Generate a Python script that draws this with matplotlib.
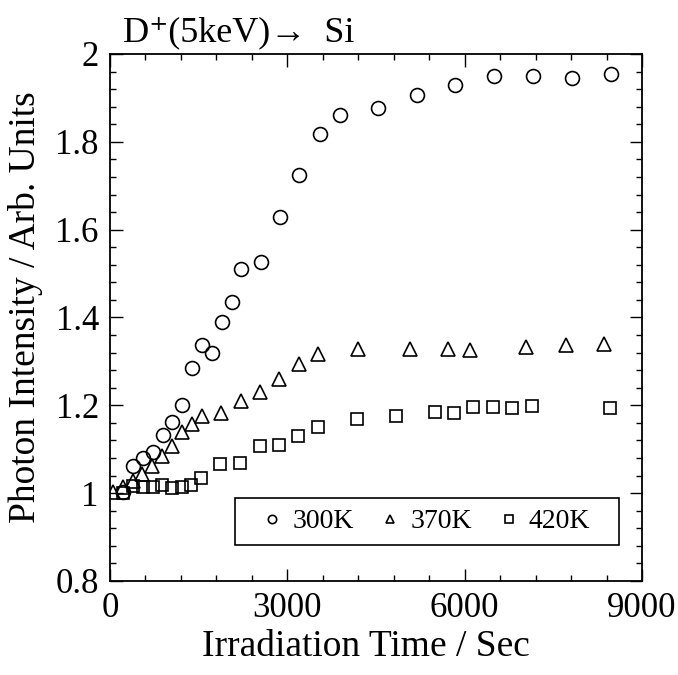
import matplotlib
matplotlib.use("Agg")
import matplotlib.pyplot as plt
from matplotlib.patches import Rectangle
from matplotlib.ticker import MultipleLocator

plt.rcParams['font.family'] = ['Liberation Serif', 'DejaVu Serif']

# data (time in sec, intensity in arb. units)
t_300 = [215, 394, 553, 722, 892, 1054, 1223, 1382, 1551, 1726, 1895, 2059,
         2221, 2549, 2876, 3203, 3553, 3891, 4529, 5189, 5842, 6496, 7161,
         7821, 8476]
i_300 = [1.002, 1.062, 1.080, 1.094, 1.132, 1.161, 1.201, 1.286, 1.337, 1.318,
         1.389, 1.436, 1.510, 1.526, 1.629, 1.725, 1.818, 1.861, 1.876, 1.906,
         1.930, 1.951, 1.949, 1.945, 1.954]

t_370 = [56, 215, 384, 546, 716, 885, 1054, 1218, 1387, 1551, 1878, 2216, 2538,
         2864, 3203, 3524, 4195, 5075, 5723, 6090, 7038, 7709, 8363]
i_370 = [1.002, 1.013, 1.028, 1.043, 1.061, 1.084, 1.107, 1.140, 1.157, 1.175,
         1.182, 1.210, 1.230, 1.261, 1.293, 1.316, 1.329, 1.329, 1.329, 1.326,
         1.332, 1.337, 1.339]

t_420 = [215, 384, 553, 722, 885, 1044, 1213, 1370, 1540, 1861, 2199, 2538,
         2859, 3186, 3514, 4174, 4833, 5498, 5825, 6146, 6474, 6806, 7134, 8459]
i_420 = [1.000, 1.017, 1.013, 1.013, 1.019, 1.011, 1.013, 1.019, 1.034, 1.066,
         1.068, 1.108, 1.110, 1.129, 1.150, 1.168, 1.175, 1.184, 1.182, 1.196,
         1.197, 1.193, 1.198, 1.195]

fig = plt.figure(figsize=(6.78, 6.75), dpi=100)
ax = fig.add_axes([0.1622, 0.1393, 0.7847, 0.7807])

mk = dict(linestyle='none', markerfacecolor='none', markeredgecolor='black',
          markeredgewidth=1.2)
ax.plot(t_300, i_300, marker='o', markersize=10, label='300K', **mk)
ax.plot(t_370, i_370, marker='^', markersize=10, label='370K', **mk)
ax.plot(t_420, i_420, marker='s', markersize=9, label='420K', **mk)

ax.set_xlim(0, 9000)
ax.set_ylim(0.8, 2.0)
ax.xaxis.set_major_locator(MultipleLocator(3000))
ax.xaxis.set_minor_locator(MultipleLocator(600))
ax.yaxis.set_minor_locator(MultipleLocator(0.04))
ax.set_yticks([0.8, 1.0, 1.2, 1.4, 1.6, 1.8, 2.0])
ax.set_yticklabels(['0.8', '1', '1.2', '1.4', '1.6', '1.8', '2'])

ax.tick_params(which='both', direction='in', top=True, right=True,
               labelsize=25, width=1)
ax.tick_params(which='major', length=9, pad=8)
ax.tick_params(which='minor', length=4)
for s in ax.spines.values():
    s.set_linewidth(1.3)

ax.set_xlabel('Irradiation Time / Sec', fontsize=27)
ax.set_ylabel('Photon Intensity / Arb. Units', fontsize=27)
ax.xaxis.set_label_coords(0.482, -0.092)
ax.yaxis.set_label_coords(-0.125, 0.52)

ax.text(0.025, 1.008, 'D\u207a(5keV)\u2192  Si', transform=ax.transAxes,
        fontsize=26, ha='left', va='bottom')

# legend box drawn separately so its padding matches the original
box = (0.235, 0.068, 0.722, 0.089)
ax.add_patch(Rectangle(box[:2], box[2], box[3], transform=ax.transAxes,
                       facecolor='white', edgecolor='black', lw=1.2, zorder=4))
leg = ax.legend(loc='center', bbox_to_anchor=(box[0] + box[2] / 2, box[1] + box[3] / 2),
                ncol=3, fontsize=20, markerscale=0.6, handlelength=0.6,
                handletextpad=0.42, columnspacing=1.03, frameon=False,
                borderpad=0, borderaxespad=0)
leg.set_zorder(5)

fig.savefig('out.png', dpi=100)
